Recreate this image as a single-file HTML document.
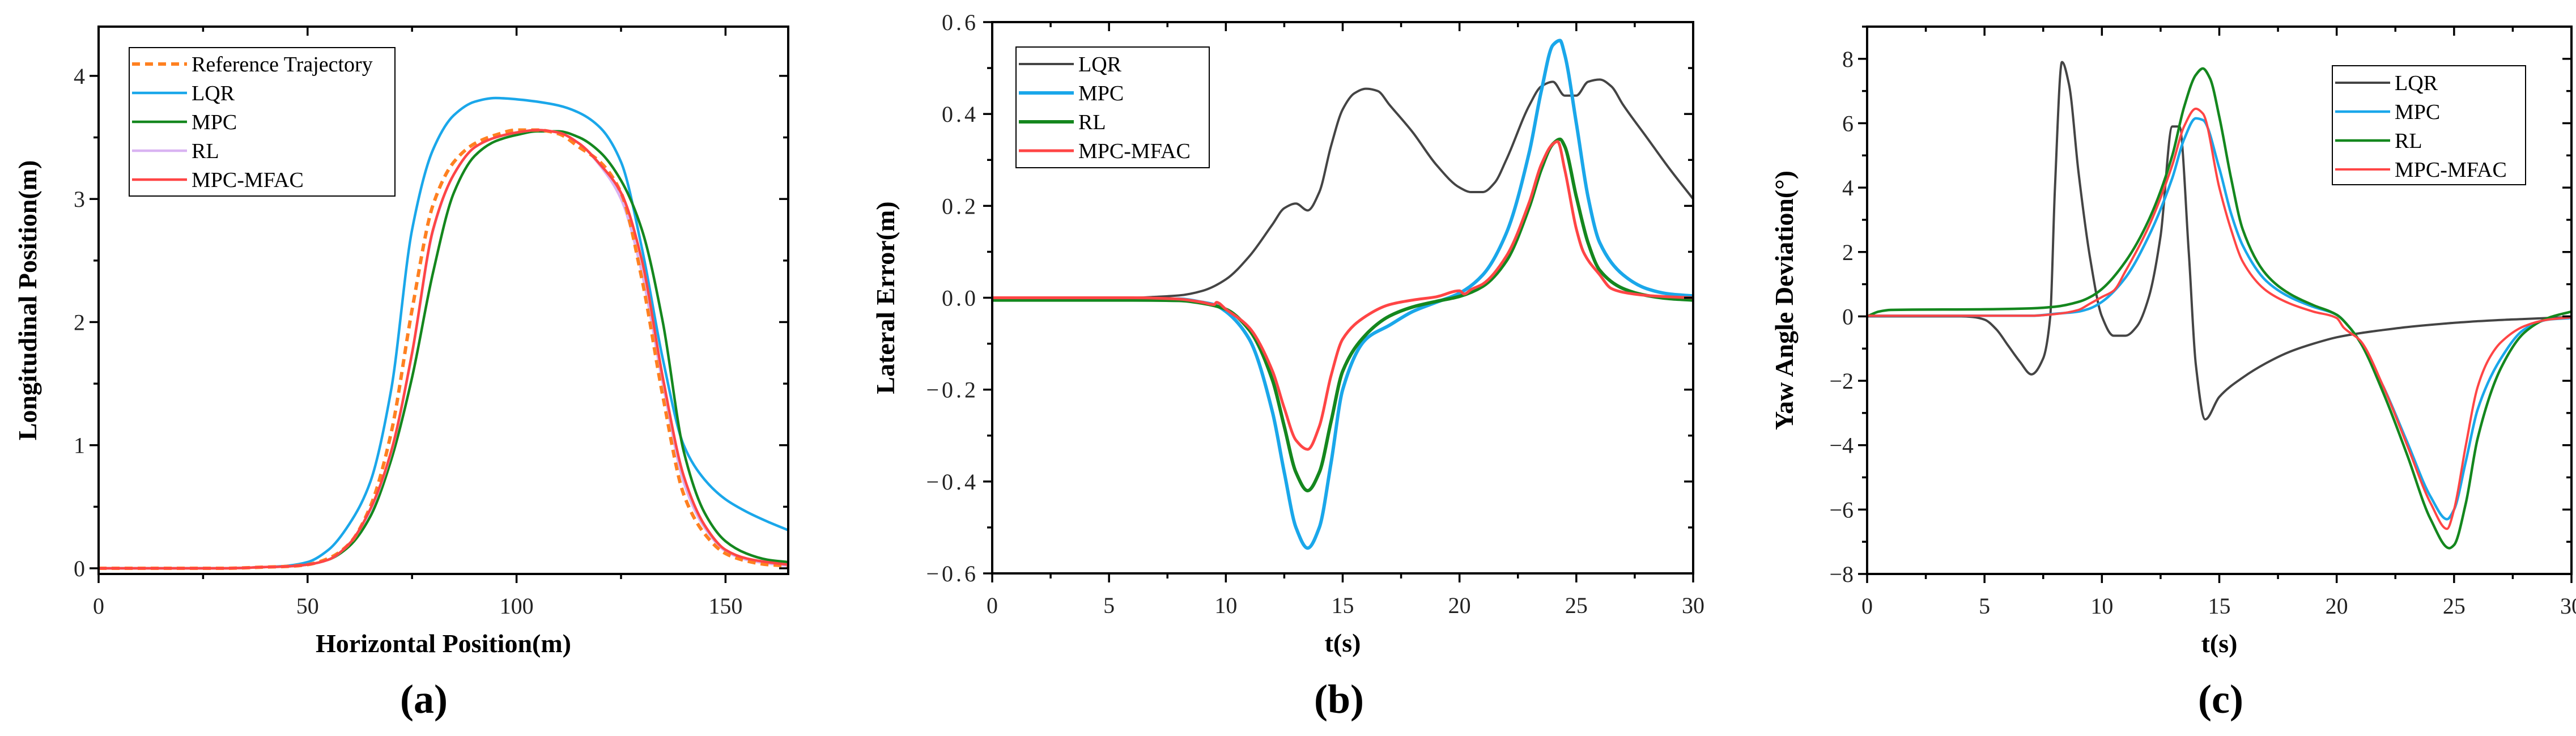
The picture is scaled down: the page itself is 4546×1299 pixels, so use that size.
<!DOCTYPE html>
<html><head><meta charset="utf-8"><style>
html,body{margin:0;padding:0;background:#fff;}
svg{display:block;font-family:"Liberation Serif",serif;}
</style></head><body>
<svg id="fig" width="4546" height="1299" viewBox="0 0 4546 1299" xmlns="http://www.w3.org/2000/svg"></svg>
<script>
// ---------- Panel (a) data ----------
const aX = [0,10,20,30,40,45,50,55,60,65,70,75,80,85,90,95,100,105,110,115,120,125,130,135,140,145,150,155,160,165];
const aRef = [0,0,0,0,0.01,0.015,0.03,0.08,0.2,0.5,1.1,2.1,2.95,3.3,3.45,3.52,3.56,3.56,3.53,3.42,3.3,3.05,2.35,1.4,0.6,0.28,0.12,0.06,0.03,0.02];
const aLQR = [0,0,0,0,0.01,0.02,0.05,0.15,0.36,0.7,1.45,2.75,3.4,3.68,3.79,3.82,3.81,3.79,3.76,3.7,3.58,3.3,2.6,1.7,1.0,0.72,0.56,0.46,0.38,0.31];
const aMPC = [0,0,0,0,0.01,0.015,0.03,0.07,0.18,0.42,0.88,1.55,2.4,3.05,3.35,3.47,3.52,3.55,3.55,3.5,3.38,3.15,2.75,2.0,0.95,0.45,0.22,0.12,0.07,0.05];
const aRL = [0,0,0,0,0.01,0.015,0.03,0.07,0.2,0.47,0.94,1.74,2.74,3.2,3.42,3.5,3.54,3.56,3.54,3.45,3.27,3.0,2.4,1.5,0.7,0.33,0.14,0.07,0.04,0.02];
const aMFAC = [0,0,0,0,0.01,0.015,0.03,0.07,0.2,0.48,0.95,1.75,2.75,3.2,3.42,3.5,3.54,3.56,3.54,3.45,3.28,3.05,2.5,1.55,0.75,0.35,0.15,0.08,0.05,0.03];
const aXTicks = [0,50,100,150];
const aYTicks = [0,1,2,3,4];

// ---------- Panel (b) data ----------
const bLQRt = [0,2,4,6,7,8,9,10,11,12,12.5,13,13.5,14,14.5,15,15.5,16,16.5,17,18,19,20,20.5,21,21.5,22,23,23.5,24,24.5,25,25.5,26,26.5,27,28,29,30];
const bLQR  = [0,0,0,0,0.002,0.005,0.015,0.04,0.09,0.16,0.195,0.205,0.19,0.23,0.33,0.41,0.445,0.455,0.45,0.42,0.36,0.29,0.24,0.23,0.23,0.25,0.3,0.42,0.46,0.47,0.44,0.44,0.47,0.475,0.46,0.42,0.35,0.28,0.215];
const bMPCt = [0,3,6,8,9,9.5,10,11,12,12.5,13,13.5,14,14.5,15,16,17,18,19,20,21,22,23,23.5,24,24.3,24.5,25,25.5,26,27,28,29,30];
const bMPC  = [-0.004,-0.004,-0.004,-0.003,-0.01,-0.015,-0.03,-0.09,-0.25,-0.38,-0.5,-0.545,-0.5,-0.36,-0.2,-0.09,-0.06,-0.03,-0.01,0.01,0.05,0.14,0.32,0.45,0.55,0.56,0.53,0.38,0.22,0.12,0.05,0.02,0.008,0.004];
const bRLt  = [0,3,6,8,9,10,11,12,12.5,13,13.5,14,14.5,15,16,17,18,19,20,21,22,23,23.5,24,24.3,24.5,25,25.5,26,27,28,29,30];
const bRL   = [-0.005,-0.005,-0.005,-0.006,-0.012,-0.025,-0.07,-0.18,-0.28,-0.38,-0.42,-0.38,-0.27,-0.16,-0.08,-0.04,-0.02,-0.008,0.003,0.025,0.08,0.2,0.28,0.335,0.345,0.33,0.22,0.12,0.06,0.02,0.005,-0.002,-0.005];
const bMFACt = [0,3,6,8,9,9.5,9.6,10,11,12,12.5,13,13.5,14,14.5,15,16,17,18,19,20,20.2,20.5,21,22,23,23.5,24,24.2,24.5,25,25.3,26,26.5,27,28,29,30];
const bMFAC  = [0,0,0,-0.003,-0.01,-0.015,-0.01,-0.025,-0.065,-0.16,-0.24,-0.31,-0.33,-0.28,-0.17,-0.09,-0.04,-0.015,-0.005,0.002,0.015,0.008,0.018,0.03,0.09,0.21,0.29,0.335,0.34,0.28,0.15,0.1,0.05,0.02,0.012,0.005,0.002,0];
const bXTicks = [0,5,10,15,20,25,30];
const bYTicks = [-0.6,-0.4,-0.2,0,0.2,0.4,0.6];
const bYLabels = ["\u22120.6","\u22120.4","\u22120.2","0.0","0.2","0.4","0.6"];

// ---------- Panel (c) data ----------
const cLQRt = [0,2,4,4.5,5,5.5,6,6.5,7,7.5,7.8,8,8.3,8.6,9,9.5,10,10.5,11,11.5,12,12.5,13,13.3,13.7,14,14.4,15,16,17,18,19,20,21,22,23,24,25,26,27,28,29,30];
const cLQR  = [0,0,0,-0.02,-0.1,-0.4,-0.9,-1.4,-1.8,-1.3,0,4,7.9,7.2,4.5,1.8,0,-0.6,-0.6,-0.3,0.6,2.5,5.9,5.9,2,-1.5,-3.2,-2.5,-1.9,-1.45,-1.1,-0.85,-0.65,-0.52,-0.42,-0.33,-0.26,-0.2,-0.15,-0.11,-0.08,-0.05,-0.02];
const cMPCt = [0,4,7,8,9,9.5,10,11,12,13,13.5,14,14.3,15,15.5,16,17,18,19,20,20.5,21,22,23,24,24.7,25,25.5,26,27,28,29,30];
const cMPC  = [0.02,0.02,0.02,0.08,0.15,0.25,0.45,1.2,2.5,4.3,5.5,6.15,6.1,4.6,3.2,2.2,1.1,0.6,0.3,0.05,-0.3,-0.8,-2.2,-3.9,-5.6,-6.3,-6.0,-4.5,-2.9,-1.3,-0.4,-0.1,-0.05];
const cRLt  = [0,0.5,1,5,7,8,9,9.5,10,11,12,13,13.5,14,14.3,14.6,15,15.5,16,17,18,19,20,20.5,21,22,23,24,24.8,25,25.5,26,27,28,29,30];
const cRL   = [0,0.15,0.2,0.22,0.25,0.3,0.45,0.6,0.85,1.7,3.0,5.0,6.5,7.5,7.7,7.4,6.2,4.3,2.7,1.3,0.7,0.35,0.05,-0.3,-0.8,-2.4,-4.3,-6.3,-7.2,-7.1,-5.8,-3.8,-1.6,-0.5,-0.05,0.15];
const cMFACt = [0,4,7,8,9,9.5,10,10.5,11,12,13,13.5,14,14.3,15,15.5,16,17,18,19,20,20.3,21,22,23,24,24.7,25,25.5,26,26.5,27,28,29,30];
const cMFAC  = [0.02,0.02,0.02,0.07,0.2,0.4,0.6,0.8,1.4,2.8,4.7,5.9,6.45,6.3,4.0,2.7,1.7,0.8,0.4,0.15,-0.05,-0.35,-0.75,-2.2,-4.0,-5.8,-6.6,-6.0,-4.0,-2.2,-1.3,-0.8,-0.3,-0.1,-0.03];
const cXTicks = [0,5,10,15,20,25,30];
const cYTicks = [-8,-6,-4,-2,0,2,4,6,8];
const cYLabels = ["\u22128","\u22126","\u22124","\u22122","0","2","4","6","8"];

const NS = "http://www.w3.org/2000/svg";
const svg = document.getElementById('fig');
function mk(tag, attrs, parent, text){
  const e = document.createElementNS(NS, tag);
  for (const k in attrs) e.setAttribute(k, attrs[k]);
  if (text !== undefined) e.textContent = text;
  (parent||svg).appendChild(e);
  return e;
}

// monotone cubic path through pixel points
function smoothPath(px, py){
  const n = px.length;
  if (n < 2) return '';
  const d = [], m = new Array(n);
  for (let i = 0; i < n - 1; i++) d.push((py[i+1] - py[i]) / (px[i+1] - px[i]));
  m[0] = d[0]; m[n-1] = d[n-2];
  for (let i = 1; i < n - 1; i++) {
    if (d[i-1] * d[i] <= 0) m[i] = 0;
    else { const h0 = px[i]-px[i-1], h1 = px[i+1]-px[i];
      const w1 = 2*h1 + h0, w2 = h1 + 2*h0;
      m[i] = (w1 + w2) / (w1 / d[i-1] + w2 / d[i]); }
  }
  let s = 'M' + px[0].toFixed(1) + ' ' + py[0].toFixed(1);
  for (let i = 0; i < n - 1; i++) {
    const h = (px[i+1] - px[i]) / 3;
    s += ' C' + (px[i]+h).toFixed(1) + ' ' + (py[i]+m[i]*h).toFixed(1) + ' ' +
         (px[i+1]-h).toFixed(1) + ' ' + (py[i+1]-m[i+1]*h).toFixed(1) + ' ' +
         px[i+1].toFixed(1) + ' ' + py[i+1].toFixed(1);
  }
  return s;
}

function panel(cfg){
  const g = mk('g', {});
  
  
  const {L,R,T,B,x0,x1,y0,y1} = cfg;
  const sx = v => L + (v - x0) / (x1 - x0) * (R - L);
  const sy = v => B - (v - y0) / (y1 - y0) * (B - T);
  const clip = 'clip-' + cfg.name;
  const cp = mk('clipPath', {id: clip}, g);
  mk('rect', {x: L, y: T, width: R - L, height: B - T}, cp);
  const order = cfg.drawOrder || cfg.series.map(s => s.id);
  order.forEach(id => {
    const s = cfg.series.find(q => q.id === id);
    const d = smoothPath(s.x.map(sx), s.y.map(sy));
    const p = mk('path', {d: d, fill: 'none', stroke: s.color, 'stroke-width': s.w || 4.5, 'stroke-dasharray': s.dash || 'none', 'stroke-linejoin': 'round', 'clip-path': 'url(#' + clip + ')'}, g);
    
    
  });
  const fr = mk('rect', {x: L, y: T, width: R - L, height: B - T, fill: 'none', stroke: '#000', 'stroke-width': 4}, g);
  
  
  const ta = {stroke: '#000', 'stroke-width': 3.5};
  const xs = Math.ceil(x0 / cfg.xMinor - 1e-9);
  for (let k = xs; k * cfg.xMinor <= x1 + 1e-9; k++) {
    const v = k * cfg.xMinor;
    const major = Math.abs(v / cfg.xMajor - Math.round(v / cfg.xMajor)) < 1e-6;
    const len = major ? 16 : 9, x = sx(v);
    mk('line', Object.assign({x1: x, x2: x, y1: B, y2: B + len}, ta), g);
    mk('line', Object.assign({x1: x, x2: x, y1: T, y2: T + len}, ta), g);
  }
  const ys = Math.ceil(y0 / cfg.yMinor - 1e-9);
  for (let k = ys; k * cfg.yMinor <= y1 + 1e-9; k++) {
    const v = k * cfg.yMinor;
    const major = Math.abs(v / cfg.yMajor - Math.round(v / cfg.yMajor)) < 1e-6;
    const len = major ? 16 : 9, y = sy(v);
    mk('line', Object.assign({x1: L - len, x2: L, y1: y, y2: y}, ta), g);
    mk('line', Object.assign({x1: R - len, x2: R, y1: y, y2: y}, ta), g);
  }
  cfg.xTicks.forEach(v => {
    const t = mk('text', {x: sx(v), y: B + 70, 'font-size': 40, 'text-anchor': 'middle', fill: '#222'}, g, String(v));
    
    
  });
  cfg.yTicks.forEach((v, i) => {
    const t = mk('text', {x: L - 24, y: sy(v) + 14, 'font-size': 40, 'text-anchor': 'end', fill: '#222', 'letter-spacing': cfg.ySpacing || 0}, g, cfg.yLabels ? cfg.yLabels[i] : String(v));
    
    
  });
  const xt = mk('text', {x: (L + R) / 2, y: B + 138, 'font-size': 46, 'font-weight': 'bold', 'text-anchor': 'middle'}, g, cfg.xTitle);
  
  
  const yt = mk('text', {x: 0, y: 0, 'font-size': 46, 'font-weight': 'bold', 'text-anchor': 'middle', transform: 'translate(' + cfg.yTitleX + ',' + ((T + B) / 2) + ') rotate(-90)'}, g, cfg.yTitle);
  
  
  const pl = mk('text', {x: cfg.capX, y: 1258, 'font-size': 72, 'font-weight': 'bold', 'text-anchor': 'middle'}, g, cfg.cap);
  
  
  const lg = mk('g', {}, g);
  
  
  const Lg = cfg.legend;
  mk('rect', {x: Lg.x, y: Lg.y, width: Lg.w, height: Lg.h, fill: '#fff', stroke: '#000', 'stroke-width': 2}, lg);
  cfg.series.forEach((s, i) => {
    const yy = Lg.y + Lg.first + i * Lg.step;
    const e = mk('g', {}, lg);
    
    
    mk('line', {x1: Lg.x + 5, x2: Lg.x + 102, y1: yy, y2: yy, stroke: s.color, 'stroke-width': s.w || 4.5, 'stroke-dasharray': s.dash || 'none'}, e);
    mk('text', {x: Lg.x + 110, y: yy + 13, 'font-size': 38}, e, s.label);
  });
}

panel({name: 'panel-a', L: 174, R: 1391, T: 47, B: 1013, x0: 0, x1: 165, y0: -0.046, y1: 4.4,
  xMajor: 50, xMinor: 25, yMajor: 1, yMinor: 0.5, xTicks: aXTicks, yTicks: aYTicks,
  xTitle: 'Horizontal Position(m)', yTitle: 'Longitudinal Position(m)', yTitleX: 64, cap: '(a)', capX: 748,
  legend: {x: 228, y: 84, w: 469, h: 262, first: 29, step: 51},
  drawOrder: ['lqr','mpc','rl','reference','mpc-mfac'],
  series: [
    {id: 'reference', label: 'Reference Trajectory', x: aX, y: aRef, color: '#ff8020', dash: '14 9', w: 6},
    {id: 'lqr', label: 'LQR', x: aX, y: aLQR, color: '#1aa7ea'},
    {id: 'mpc', label: 'MPC', x: aX, y: aMPC, color: '#14871e'},
    {id: 'rl', label: 'RL', x: aX, y: aRL, color: '#d9b3f2'},
    {id: 'mpc-mfac', label: 'MPC-MFAC', x: aX, y: aMFAC, color: '#ff4545'}
  ]
});

panel({name: 'panel-b', L: 1751, R: 2988, T: 39, B: 1012, x0: 0, x1: 30, y0: -0.6, y1: 0.6,
  xMajor: 5, xMinor: 2.5, yMajor: 0.2, yMinor: 0.1, xTicks: bXTicks, yTicks: bYTicks, yLabels: bYLabels, ySpacing: 5,
  xTitle: 't(s)', yTitle: 'Lateral Error(m)', yTitleX: 1578, cap: '(b)', capX: 2363,
  legend: {x: 1793, y: 83, w: 341, h: 213, first: 30, step: 51},
  series: [
    {id: 'lqr', label: 'LQR', x: bLQRt, y: bLQR, color: '#444444', w: 4},
    {id: 'mpc', label: 'MPC', x: bMPCt, y: bMPC, color: '#1aa7ea', w: 6},
    {id: 'rl', label: 'RL', x: bRLt, y: bRL, color: '#14871e', w: 6},
    {id: 'mpc-mfac', label: 'MPC-MFAC', x: bMFACt, y: bMFAC, color: '#ff4545', w: 5}
  ]
});

panel({name: 'panel-c', L: 3295, R: 4538, T: 47, B: 1013, x0: 0, x1: 30, y0: -8, y1: 9,
  xMajor: 5, xMinor: 2.5, yMajor: 2, yMinor: 1, xTicks: cXTicks, yTicks: cYTicks, yLabels: cYLabels,
  xTitle: 't(s)', yTitle: 'Yaw Angle Deviation(\u00B0)', yTitleX: 3164, cap: '(c)', capX: 3919,
  legend: {x: 4116, y: 116, w: 341, h: 210, first: 30, step: 51},
  series: [
    {id: 'lqr', label: 'LQR', x: cLQRt, y: cLQR, color: '#444444', w: 4},
    {id: 'mpc', label: 'MPC', x: cMPCt, y: cMPC, color: '#1aa7ea', w: 4.5},
    {id: 'rl', label: 'RL', x: cRLt, y: cRL, color: '#14871e', w: 4.5},
    {id: 'mpc-mfac', label: 'MPC-MFAC', x: cMFACt, y: cMFAC, color: '#ff4545', w: 4}
  ]
});
</script>
</body></html>
